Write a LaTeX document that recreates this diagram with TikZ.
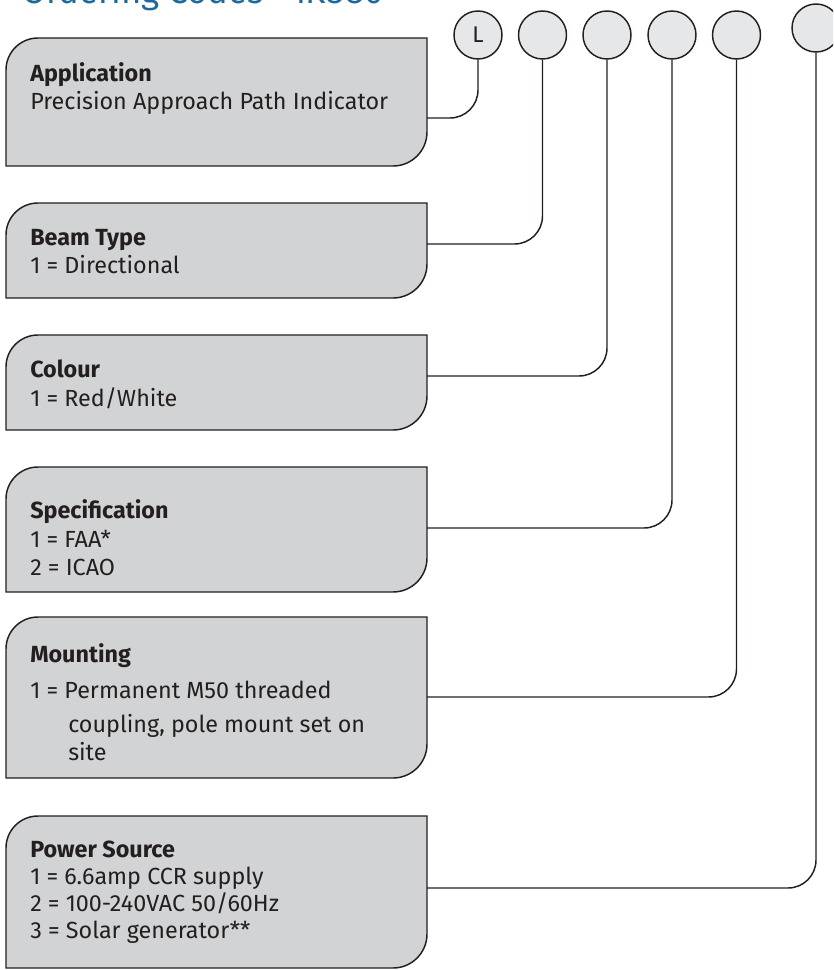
\documentclass[tikz,border=0pt]{standalone}
\usepackage{fontspec}
\setmainfont{Fira Sans}
\usetikzlibrary{calc}
\definecolor{boxgray}{HTML}{D1D3D4}
\definecolor{circgray}{HTML}{E6E7E8}
\definecolor{ink}{HTML}{231F20}
\definecolor{titleblue}{HTML}{1D6A9A}
\tikzset{
  boxline/.style={draw=ink, fill=boxgray, line width=1.1pt},
  conn/.style={draw=ink, line width=1.1pt, rounded corners=21pt},
  codecirc/.style={circle, draw=ink, fill=circgray, line width=1.1pt, minimum size=36pt, inner sep=0pt, font=\fontsize{17}{19}\selectfont, text=ink},
  txt/.style={anchor=base west, inner sep=0pt, font=\fontsize{17.5}{20}\selectfont, text=ink},
  hdr/.style={anchor=base west, inner sep=0pt, font=\fontsize{17.5}{20}\selectfont\bfseries, text=ink},
  area/.style={inner sep=0pt, outer sep=0pt, anchor=north west, minimum width=315.75pt},
}
\newcommand\codebox[3]{%
  \draw[boxline] (6,#3) -- (6,#2+32) .. controls (6,#2+14.3) and (20.3,#2) .. (38,#2) -- (427,#2) -- (427,#3-34) .. controls (427,#3-15.2) and (411.8,#3) .. (393,#3) -- cycle;
  \node[area, minimum height={(#3-#2)*0.75pt}] (#1) at (6,#2) {};
}
\begin{document}
\begin{tikzpicture}[x=0.75pt, y=-0.75pt]
\useasboundingbox (0,0) rectangle (833,970);
\clip (0,0) rectangle (833,970);
\node[anchor=base west, inner sep=0pt, text=titleblue, font=\fontsize{26}{30}\selectfont] (title) at (22,4) {Ordering Codes - iK880};

% boxes
\codebox{app}{38}{166}
\codebox{beam}{203}{298}
\codebox{col}{335}{430}
\codebox{spec}{467}{592}
\codebox{mount}{617}{778}
\codebox{power}{816}{968}

% circles
\node[codecirc] (c1) at (478,35) {L};
\node[codecirc] (c2) at (542.5,35) {};
\node[codecirc] (c3) at (607,35) {};
\node[codecirc] (c4) at (672,35) {};
\node[codecirc] (c5) at (736.5,35) {};
\node[codecirc] (c6) at (816,28) {};

% connector levels
\coordinate (k1) at (0,118);
\coordinate (k2) at (0,244);
\coordinate (k3) at (0,376);
\coordinate (k4) at (0,528);
\coordinate (k5) at (0,697);
\coordinate (k6) at (0,888);
\draw[conn] (c1.south) |- (app.east |- k1);
\draw[conn] (c2.south) |- (beam.east |- k2);
\draw[conn] (c3.south) |- (col.east |- k3);
\draw[conn] (c4.south) |- (spec.east |- k4);
\draw[conn] (c5.south) |- (mount.east |- k5);
\draw[conn] (c6.south) |- (power.east |- k6);

% texts
\node[hdr] (t1h) at (30,82) {Application};
\node[txt] (t1a) at (30,110) {Precision Approach Path Indicator};

\node[hdr] (t2h) at (30,245) {Beam Type};
\node[txt] (t2a) at (30,273) {1 = Directional};

\node[hdr] (t3h) at (30,377) {Colour};
\node[txt] (t3a) at (30,406) {1 = Red/White};

\node[hdr] (t4h) at (30,518) {Specification};
\node[txt] (t4a) at (30,547) {1 = FAA*};
\node[txt] (t4b) at (30,575) {2 = ICAO};

\node[hdr] (t5h) at (30,662) {Mounting};
\node[txt] (t5a) at (30,698) {1 = Permanent M50 threaded};
\node[txt] (t5b) at (68,732) {coupling, pole mount set on};
\node[txt] (t5c) at (68,760) {site};

\node[hdr] (t6h) at (30,857) {Power Source};
\node[txt] (t6a) at (30,884) {1 = 6.6amp CCR supply};
\node[txt] (t6b) at (30,911) {2 = 100-240VAC 50/60Hz};
\node[txt] (t6c) at (30,938) {3 = Solar generator**};
\end{tikzpicture}
\end{document}
